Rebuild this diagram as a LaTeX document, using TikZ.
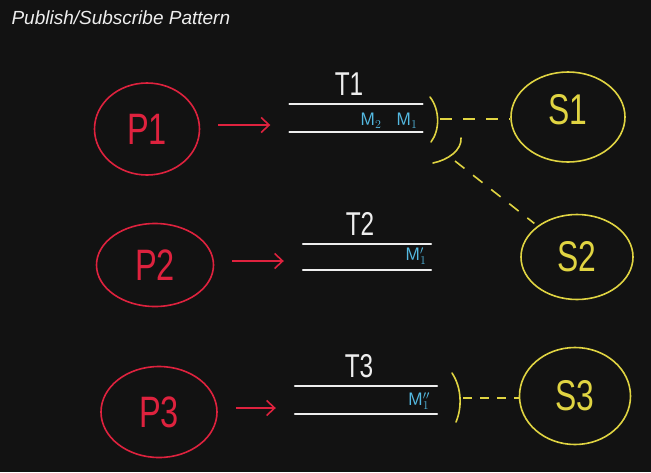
\documentclass[tikz,border=0pt]{standalone}
\usepackage{fontspec}
\setmainfont{Liberation Sans}
\newfontfamily\hand[FakeStretch=0.74]{Liberation Sans}
\usetikzlibrary{arrows.meta,positioning,shapes.geometric}
\definecolor{board}{RGB}{18,18,18}
\definecolor{pubred}{RGB}{222,34,62}
\definecolor{subyellow}{RGB}{224,212,66}
\definecolor{msgblue}{RGB}{84,186,226}
\definecolor{chalk}{RGB}{238,238,238}

\begin{document}
\begin{tikzpicture}[x=1pt, y=-1pt,
      pub/.style={ellipse, draw=pubred, line width=1.6pt, inner sep=0pt,
                  text=pubred, font=\hand\fontsize{44}{44}\selectfont},
      sub/.style={ellipse, draw=subyellow, line width=1.6pt, inner sep=0pt,
                  text=subyellow, font=\hand\fontsize{43}{43}\selectfont},
      topic/.style={rectangle, inner sep=0pt},
      rail/.style={chalk, line width=1.8pt, line cap=round},
      tname/.style={text=chalk, font=\hand\fontsize{33}{33}\selectfont},
      msg/.style={text=msgblue, font=\fontsize{18}{18}\selectfont},
      publink/.style={-{Straight Barb[length=8pt,width=15pt]}, pubred, line width=1.6pt,
                      shorten <=18pt, shorten >=19pt},
      hook/.style={subyellow, line width=1.6pt, line cap=round},
      sublink/.style={subyellow, line width=1.6pt, dash pattern=on 12pt off 11pt}]
    % page and background
    \fill[board] (0,0) rectangle (651,472);
    \useasboundingbox (0,0) rectangle (651,472);
    \node[anchor=west, text=chalk, font=\itshape\fontsize{19}{19}\selectfont] (title)
      at (8,18) {Publish/Subscribe Pattern};
    % publishers and their topics
    \foreach \i/\px/\py/\pw/\ph/\tx/\ty/\tw/\th in {1/147/129/105/92/356/118/133/27,
        2/155/265/117/83/367/257/128/25, 3/159/412/116/91/366/400/142/27}{
      \node[pub, minimum width=\pw pt, minimum height=\ph pt] (p\i) at (\px,\py) {P\i};
      \node[topic, minimum width=\tw pt, minimum height=\th pt] (t\i) at (\tx,\ty) {};
      \draw[rail] (t\i.north west) -- (t\i.north east);
      \draw[rail] (t\i.south west) -- (t\i.south east);
      \node[tname, above=5pt of t\i, xshift=-7pt] (tl\i) {T\i};
      \draw[publink] ([yshift=4pt]p\i.east) -- ([yshift=4pt]p\i.east -| t\i.west);
    }
    % messages waiting in the topics
    \node[msg] (m12) at (371,121) {$\mathsf{M}_2$};
    \node[msg] (m11) at (407,121) {$\mathsf{M}_1$};
    \node[msg] (m21) at (416,256) {$\mathsf{M}'_1$};
    \node[msg] (m31) at (419,401) {$\mathsf{M}''_1$};
    % subscribers
    \node[sub, minimum width=114pt, minimum height=90pt] (s1) at (568,117) {\raisebox{16pt}{S1}};
    \node[sub, minimum width=112pt, minimum height=85pt] (s2) at (577,257) {S2};
    \node[sub, minimum width=111pt, minimum height=97pt] (s3) at (575,396) {S3};
    % subscriptions
    \draw[hook] (430,97) .. controls (440,110) and (440,130) .. (431,142);
    \coordinate (k1) at (440,119);
    \draw[sublink] (k1) -- (k1 -| s1.west);
    \draw[hook] (461,138) .. controls (462,150) and (448,160) .. (433,163);
    \coordinate (k2) at (455,161);
    \draw[sublink, shorten >=4pt] (k2) -- (s2);
    \draw[hook] (452,373) .. controls (462,388) and (462,408) .. (456,422);
    \coordinate (k3) at (463,398);
    \draw[sublink, dash pattern=on 9pt off 8pt] (k3) -- (k3 -| s3.west);
\end{tikzpicture}
\end{document}
